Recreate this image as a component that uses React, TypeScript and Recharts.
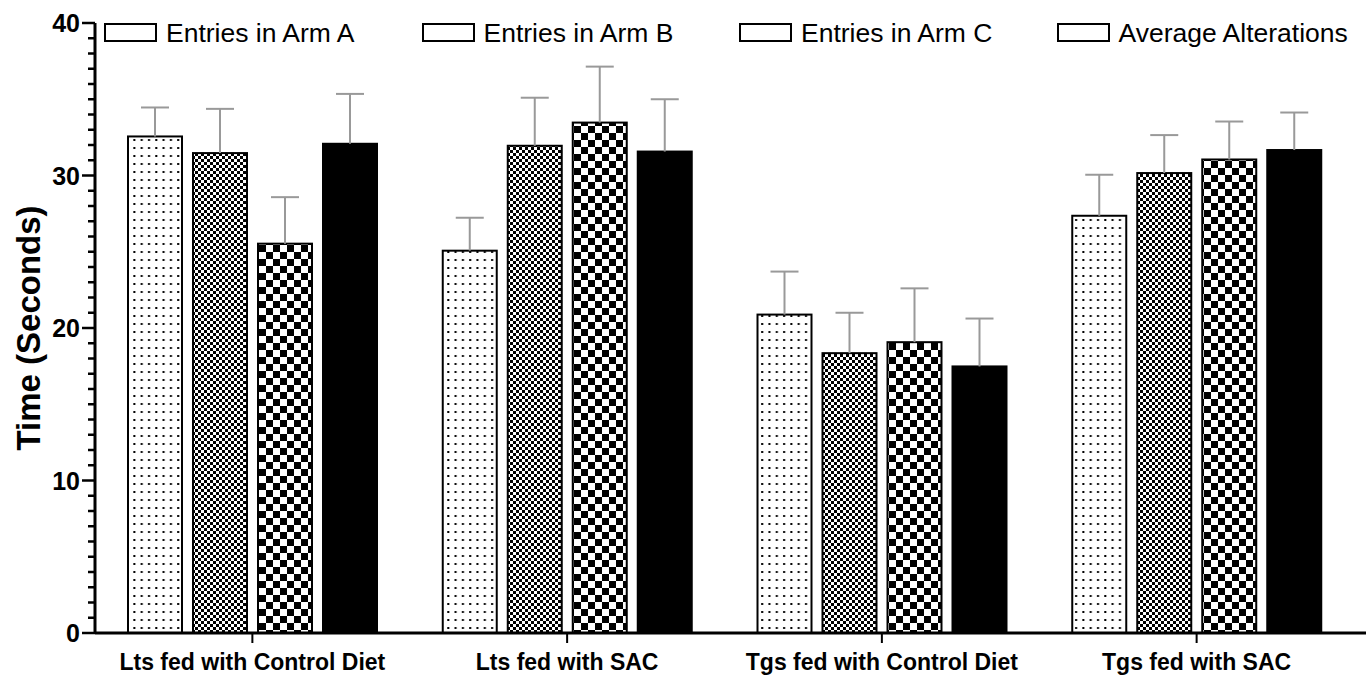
import React from 'react';
import { BarChart, Bar, XAxis, YAxis, Legend } from 'recharts';

const categories = ['Lts fed with Control Diet', 'Lts fed with SAC', 'Tgs fed with Control Diet', 'Tgs fed with SAC'];
const armA = [32.56, 25.07, 20.88, 27.36];
const armB = [31.47, 31.95, 18.35, 30.16];
const armC = [25.53, 33.47, 19.07, 31.05];
const avgAlt = [32.08, 31.57, 17.48, 31.67];
const errA = [1.9, 2.16, 2.82, 2.69];
const errB = [2.9, 3.15, 2.65, 2.49];
const errC = [3.05, 3.67, 3.53, 2.49];
const errD = [3.27, 3.43, 3.14, 2.46];
const seriesNames = ['Entries in Arm A', 'Entries in Arm B', 'Entries in Arm C', 'Average Alterations'];
const yTicks = Array.from({ length: 41 }, (_, i) => i);

const data = categories.map((name, i) => ({
  name,
  a: armA[i], b: armB[i], c: armC[i], d: avgAlt[i],
  ea: errA[i], eb: errB[i], ec: errC[i], ed: errD[i],
}));

const FONT = '"Liberation Sans", Arial, Helvetica, sans-serif';

const makeShape = (errKey: string, fill: string) => (props: any) => {
  const { x, y, width, height, payload, value } = props;
  const v = Array.isArray(value) ? value[1] - value[0] : value;
  const err = payload[errKey];
  const ppu = v ? height / v : 0;
  const ey = y - err * ppu;
  const cx = x + width / 2;
  return (
    <g>
      <rect x={x} y={y} width={width} height={height} fill={fill} stroke="#000" strokeWidth={2} />
      <line x1={cx} x2={cx} y1={y} y2={ey} stroke="#999" strokeWidth={2} />
      <line x1={cx - 14} x2={cx + 14} y1={ey} y2={ey} stroke="#999" strokeWidth={2} />
    </g>
  );
};

const YTick = (props: any) => {
  const { x, y, payload } = props;
  const major = payload.value % 10 === 0;
  return (
    <g>
      <line x1={x - (major ? 13 : 7)} x2={x} y1={y} y2={y} stroke="#000" strokeWidth={2.5} />
      {major && (
        <text x={x - 15} y={y} dy="0.36em" textAnchor="end" fontFamily={FONT} fontWeight="bold" fontSize={25} fill="#000">
          {payload.value}
        </text>
      )}
    </g>
  );
};

const LegendContent = () => (
  <div style={{ display: 'flex', flexDirection: 'row', paddingLeft: 104, height: 30, alignItems: 'center' }}>
    {seriesNames.map((n) => (
      <div key={n} style={{ width: 317.5, display: 'flex', alignItems: 'center', flex: 'none' }}>
        <div style={{ width: 53, height: 19, boxSizing: 'border-box', border: '2px solid #000', background: '#fff', flex: 'none' }} />
        <span style={{ marginLeft: 9, fontFamily: FONT, fontSize: 26.5, lineHeight: '30px', color: '#000', whiteSpace: 'nowrap' }}>{n}</span>
      </div>
    ))}
  </div>
);

export default function App() {
  return (
    <div style={{ position: 'absolute', left: 0, top: 0, width: 1366, height: 679, background: '#fff' }}>
      <BarChart width={1366} height={679} data={data} margin={{ top: 23, right: 0, bottom: 0, left: 0 }} barSize={54} barGap={11}>
        <defs>
          <pattern id="dots" patternUnits="userSpaceOnUse" width="7.3" height="8">
            <rect width="7.3" height="8" fill="#fff" />
            <rect x="2" y="3" width="2" height="2" fill="#000" />
          </pattern>
          <pattern id="fineCheck" patternUnits="userSpaceOnUse" width="6" height="6">
            <rect width="6" height="6" fill="#fff" />
            <rect x="0" y="0" width="3" height="3" fill="#000" />
            <rect x="3" y="3" width="3" height="3" fill="#000" />
          </pattern>
          <pattern id="coarseCheck" patternUnits="userSpaceOnUse" width="14" height="14">
            <rect width="14" height="14" fill="#fff" />
            <rect x="0" y="0" width="7" height="7" fill="#000" />
            <rect x="7" y="7" width="7" height="7" fill="#000" />
          </pattern>
        </defs>
        <XAxis
          dataKey="name"
          height={46}
          padding={{ left: 0, right: 12 }}
          axisLine={{ stroke: '#000', strokeWidth: 3 }}
          tickLine={{ stroke: '#000', strokeWidth: 2 }}
          tickSize={10}
          tickMargin={11}
          tick={{ fill: '#000', fontFamily: FONT, fontWeight: 'bold', fontSize: 23 }}
          interval={0}
        />
        <YAxis
          width={95}
          domain={[0, 40]}
          ticks={yTicks}
          interval={0}
          tickLine={false}
          tickSize={0}
          tickMargin={0}
          axisLine={{ stroke: '#000', strokeWidth: 3 }}
          tick={<YTick />}
          label={{ value: 'Time (Seconds)', angle: -90, position: 'insideLeft', offset: 28, textAnchor: 'middle', fill: '#000', fontFamily: FONT, fontWeight: 'bold', fontSize: 33 }}
        />
        <Legend
          verticalAlign="middle"
          layout="horizontal"
          wrapperStyle={{ position: 'absolute', top: 17.5, left: 0, width: 1366, height: 30 }}
          content={<LegendContent />}
        />
        <Bar dataKey="a" name={seriesNames[0]} fill="url(#dots)" isAnimationActive={false} shape={makeShape('ea', 'url(#dots)')} />
        <Bar dataKey="b" name={seriesNames[1]} fill="url(#fineCheck)" isAnimationActive={false} shape={makeShape('eb', 'url(#fineCheck)')} />
        <Bar dataKey="c" name={seriesNames[2]} fill="url(#coarseCheck)" isAnimationActive={false} shape={makeShape('ec', 'url(#coarseCheck)')} />
        <Bar dataKey="d" name={seriesNames[3]} fill="#000" isAnimationActive={false} shape={makeShape('ed', '#000')} />
      </BarChart>
    </div>
  );
}
